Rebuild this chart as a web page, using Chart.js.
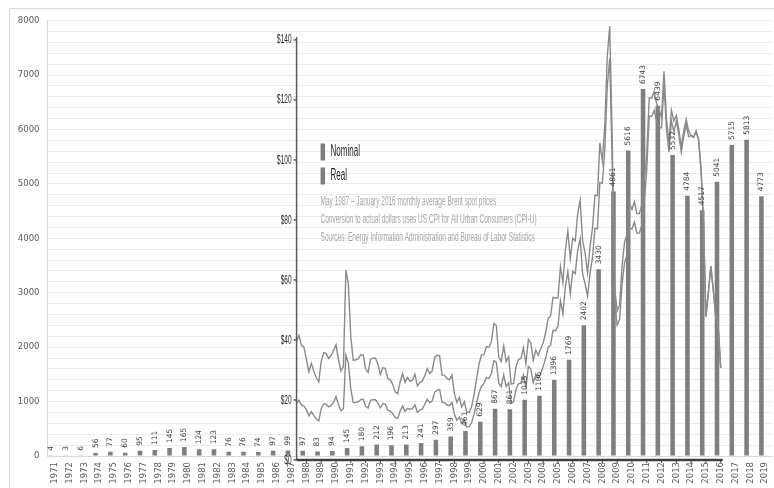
<!DOCTYPE html>
<html>
<head>
<meta charset="utf-8">
<script src="https://cdn.jsdelivr.net/npm/chart.js@4.4.1/dist/chart.umd.min.js"></script>
<style>
  body { margin: 0; background: #fff; }
  #wrap { position: relative; width: 774px; height: 488px; overflow: hidden; }
  #frame { position: absolute; left: 9px; top: 8px; width: 800px; height: 520px; border: 1px solid #d9d9d9; pointer-events: none; }
</style>
</head>
<body>
<div id="wrap">
  <canvas id="chart" width="774" height="488"></canvas>
  <div id="frame"></div>
</div>
<script>

// bars: one value per year
var years = [];
for (var yr = 1971; yr <= 2019; yr++) years.push(String(yr));

var values = [4, 3, 6, 56, 77, 60, 95, 111, 145, 165,
  124, 123, 76, 76, 74, 97, 99, 97, 83, 94,
  145, 180, 212, 196, 213, 241, 297, 359, 461, 629,
  867, 861, 1035, 1106, 1396, 1769, 2402, 3430, 4861, 5616,
  6743, 6439, 5532, 4784, 4517, 5041, 5715, 5813, 4773];

// Brent prices, every second month from May 1987 to Jan 2016
var priceStartYear = 1987, priceStartMonth = 5, priceStepMonths = 2;

var nominal = [
  19.0, 19.9, 18.3, 18.0,
  16.7, 14.7, 16.1, 14.8, 13.7, 13.0,
  17.2, 18.7, 18.6, 17.7, 18.2, 19.1,
  21.2, 18.4, 16.4, 17.2, 34.9, 32.3,
  23.6, 19.1, 19.2, 19.4, 20.1, 20.2,
  18.0, 17.3, 19.9, 20.1, 20.1, 18.9,
  17.4, 18.8, 18.6, 16.6, 16.3, 15.4,
  14.2, 13.8, 16.3, 18.0, 16.2, 17.2,
  16.9, 17.1, 18.4, 15.9, 16.6, 16.9,
  18.6, 20.2, 19.1, 19.7, 22.6, 23.2,
  23.5, 19.2, 19.1, 18.4, 18.1, 19.2,
  15.2, 13.2, 14.3, 12.1, 13.4, 11.0,
  11.1, 12.5, 15.3, 19.0, 22.5, 24.6,
  25.5, 27.5, 27.3, 28.7, 33.1, 32.6,
  25.6, 24.5, 28.4, 24.5, 25.7, 18.9,
  19.4, 23.7, 25.4, 25.7, 28.4, 24.3,
  31.2, 30.3, 25.8, 28.4, 27.1, 28.8,
  31.2, 33.8, 37.6, 38.2, 43.2, 43.1,
  44.5, 53.1, 48.7, 57.6, 62.9, 55.4,
  62.9, 62.1, 69.8, 73.7, 62.0, 58.8,
  54.6, 62.1, 67.5, 77.2, 77.1, 92.5,
  92.2, 103.3, 124.6, 133.9, 99.1, 53.2,
  44.9, 46.8, 58.6, 65.8, 68.2, 77.5,
  76.9, 79.3, 75.6, 75.6, 78.2, 86.1,
  96.5, 114.6, 114.5, 116.5, 112.8, 110.8,
  110.7, 125.5, 110.3, 102.6, 113.0, 109.5,
  112.9, 108.5, 102.6, 107.9, 111.6, 107.8,
  108.1, 107.5, 109.5, 106.8, 97.1, 79.4,
  47.8, 55.9, 64.6, 56.5, 47.6, 44.3,
  30.7];

var real = [
  39.6, 41.5, 38.2, 37.5,
  33.5, 29.4, 32.2, 29.6, 27.4, 26.0,
  32.9, 35.7, 35.5, 33.8, 34.8, 36.5,
  38.4, 33.4, 29.7, 31.2, 63.3, 58.6,
  41.0, 33.2, 33.4, 33.7, 35.0, 35.1,
  30.4, 29.2, 33.6, 33.9, 33.9, 31.9,
  28.5, 30.8, 30.5, 27.2, 26.7, 25.2,
  22.7, 22.1, 26.0, 28.8, 25.9, 27.5,
  26.3, 26.6, 28.6, 24.7, 25.8, 26.3,
  28.1, 30.5, 28.8, 29.7, 34.1, 35.0,
  34.7, 28.3, 28.2, 27.2, 26.7, 28.3,
  22.1, 19.2, 20.8, 17.6, 19.5, 16.0,
  15.8, 17.8, 21.8, 27.0, 32.0, 35.0,
  35.1, 37.8, 37.6, 39.5, 45.5, 44.9,
  34.3, 32.8, 38.0, 32.8, 34.4, 25.3,
  25.5, 31.2, 33.5, 33.8, 37.4, 32.0,
  40.2, 39.0, 33.2, 36.6, 34.9, 37.1,
  39.1, 42.4, 47.2, 47.9, 54.2, 54.0,
  54.0, 64.4, 59.1, 69.9, 76.3, 67.2,
  73.9, 73.0, 82.0, 86.6, 72.9, 69.1,
  62.4, 71.0, 77.2, 88.2, 88.1, 105.7,
  99.6, 111.6, 134.6, 144.6, 107.0, 57.5,
  49.6, 51.7, 64.7, 72.6, 75.3, 85.6,
  83.5, 86.1, 82.1, 82.1, 84.9, 93.5,
  101.6, 120.7, 120.6, 122.7, 118.8, 116.7,
  114.2, 129.5, 113.8, 105.9, 116.6, 113.0,
  114.8, 110.3, 104.3, 109.7, 113.5, 109.6,
  108.2, 107.6, 109.6, 106.9, 97.2, 79.5,
  47.8, 55.9, 64.6, 56.5, 47.6, 44.3,
  30.7];

var priceTicks = [0, 20, 40, 60, 80, 100, 120, 140];
var legendNames = ['Nominal', 'Real'];
var notes = [
  'May 1987 \u2013 January 2016 monthly average Brent spot prices',
  'Conversion to actual dollars uses US CPI for All Urban Consumers (CPI-U)',
  'Sources: Energy Information Administration and Bureau of Labor Statistics'
];

function priceTime(i) {
  return priceStartYear + (priceStartMonth - 1 + i * priceStepMonths) / 12;
}
function toPoints(arr) {
  return arr.map(function (v, i) { return { x: priceTime(i), y: v }; });
}

// narrow text, like the squashed inset picture
function narrowText(ctx, txt, x, y, size, color, align) {
  ctx.save();
  ctx.translate(x, y);
  ctx.scale(0.5, 1);
  ctx.font = size + 'px "Liberation Sans", Arial, sans-serif';
  ctx.fillStyle = color;
  ctx.textAlign = align;
  ctx.textBaseline = 'middle';
  ctx.fillText(txt, 0, 0);
  ctx.restore();
}

var barLabels = {
  id: 'barLabels',
  afterDatasetsDraw: function (chart) {
    var ctx = chart.ctx;
    var meta = chart.getDatasetMeta(0);
    ctx.save();
    ctx.font = '7.5px "DejaVu Sans"';
    ctx.fillStyle = '#404040';
    ctx.textAlign = 'left';
    ctx.textBaseline = 'middle';
    meta.data.forEach(function (bar, i) {
      ctx.save();
      ctx.translate(bar.x, bar.y - 5);
      ctx.rotate(-Math.PI / 2);
      ctx.fillText(String(values[i]), 0, 0);
      ctx.restore();
    });
    ctx.restore();
  }
};

var inset = {
  id: 'inset',
  afterDatasetsDraw: function (chart) {
    var ctx = chart.ctx, xs = chart.scales.x2, ys = chart.scales.y2;
    var x0 = xs.getPixelForValue(priceTime(0));
    var x1 = xs.getPixelForValue(priceTime(nominal.length - 1));
    var yb = ys.getPixelForValue(0), yt = ys.getPixelForValue(140);
    ctx.save();
    ctx.strokeStyle = '#595959';
    ctx.lineWidth = 1.5;
    ctx.beginPath();
    ctx.moveTo(x0, yt - 3);
    ctx.lineTo(x0, yb);
    ctx.stroke();
    priceTicks.forEach(function (p) {
      var y = ys.getPixelForValue(p);
      ctx.beginPath();
      ctx.moveTo(x0 - 3, y);
      ctx.lineTo(x0, y);
      ctx.stroke();
      narrowText(ctx, '$' + p, x0 - 5, y, 13, '#262626', 'right');
    });
    ctx.strokeStyle = '#404040';
    ctx.lineWidth = 2.5;
    ctx.beginPath();
    ctx.moveTo(x0, yb);
    ctx.lineTo(x1 + 2, yb);
    ctx.stroke();
    ctx.lineWidth = 1;
    for (var t = 1988; t <= 2016; t++) {
      var x = xs.getPixelForValue(t);
      ctx.beginPath();
      ctx.moveTo(x, yb);
      ctx.lineTo(x, yb + 3);
      ctx.stroke();
    }
    // legend and notes
    legendNames.forEach(function (name, i) {
      var y = 152 + i * 24;
      ctx.fillStyle = '#7f7f7f';
      ctx.fillRect(x0 + 24, y - 8.5, 4.5, 17);
      narrowText(ctx, name, x0 + 34, y, 16, '#262626', 'left');
    });
    notes.forEach(function (txt, i) {
      narrowText(ctx, txt, x0 + 24, 201 + i * 18, 13, '#a6a6a6', 'left');
    });
    ctx.restore();
  }
};

Chart.defaults.font.family = '"DejaVu Sans", sans-serif';

new Chart(document.getElementById('chart'), {
  type: 'bar',
  data: {
    labels: years,
    datasets: [{
      label: 'Values',
      data: values,
      backgroundColor: '#7f7f7f',
      barPercentage: 0.62,
      categoryPercentage: 1,
      xAxisID: 'x',
      yAxisID: 'y',
      order: 2
    }, {
      type: 'line',
      label: 'Nominal',
      data: toPoints(nominal),
      borderColor: '#8a8a8a',
      borderWidth: 1.4,
      pointRadius: 0,
      tension: 0,
      xAxisID: 'x2',
      yAxisID: 'y2',
      order: 1
    }, {
      type: 'line',
      label: 'Real',
      data: toPoints(real),
      borderColor: '#8a8a8a',
      borderWidth: 1.4,
      pointRadius: 0,
      tension: 0,
      xAxisID: 'x2',
      yAxisID: 'y2',
      order: 1
    }]
  },
  options: {
    responsive: false,
    animation: false,
    layout: { padding: { top: 20.7, right: 1.5, bottom: 0, left: 0 } },
    plugins: { legend: { display: false }, tooltip: { enabled: false } },
    scales: {
      x: {
        type: 'category',
        grid: { display: false, drawTicks: false },
        border: { color: '#d9d9d9' },
        ticks: { autoSkip: false, minRotation: 90, maxRotation: 90, padding: 6,
          color: '#595959', font: { size: 8.5 } },
        afterFit: function (s) { s.height = 32; s.paddingLeft = 0; s.paddingRight = 0; }
      },
      y: {
        min: 0,
        max: 8000,
        grid: { color: '#ececec', drawTicks: false },
        border: { color: '#d9d9d9' },
        ticks: {
          stepSize: 200, autoSkip: false, maxTicksLimit: 100, padding: 8,
          color: '#595959', font: { size: 8.5 },
          callback: function (v) { return v % 1000 === 0 ? v : ''; }
        },
        afterFit: function (s) { s.width = 47.5; s.paddingTop = 0; s.paddingBottom = 0; }
      },
      x2: { type: 'linear', min: 1970.5, max: 2019.5, offset: false, grid: { offset: false }, display: false },
      y2: { type: 'linear', min: 1.33, max: 146.4, display: false }
    }
  },
  plugins: [barLabels, inset]
});
</script>
</body>
</html>
